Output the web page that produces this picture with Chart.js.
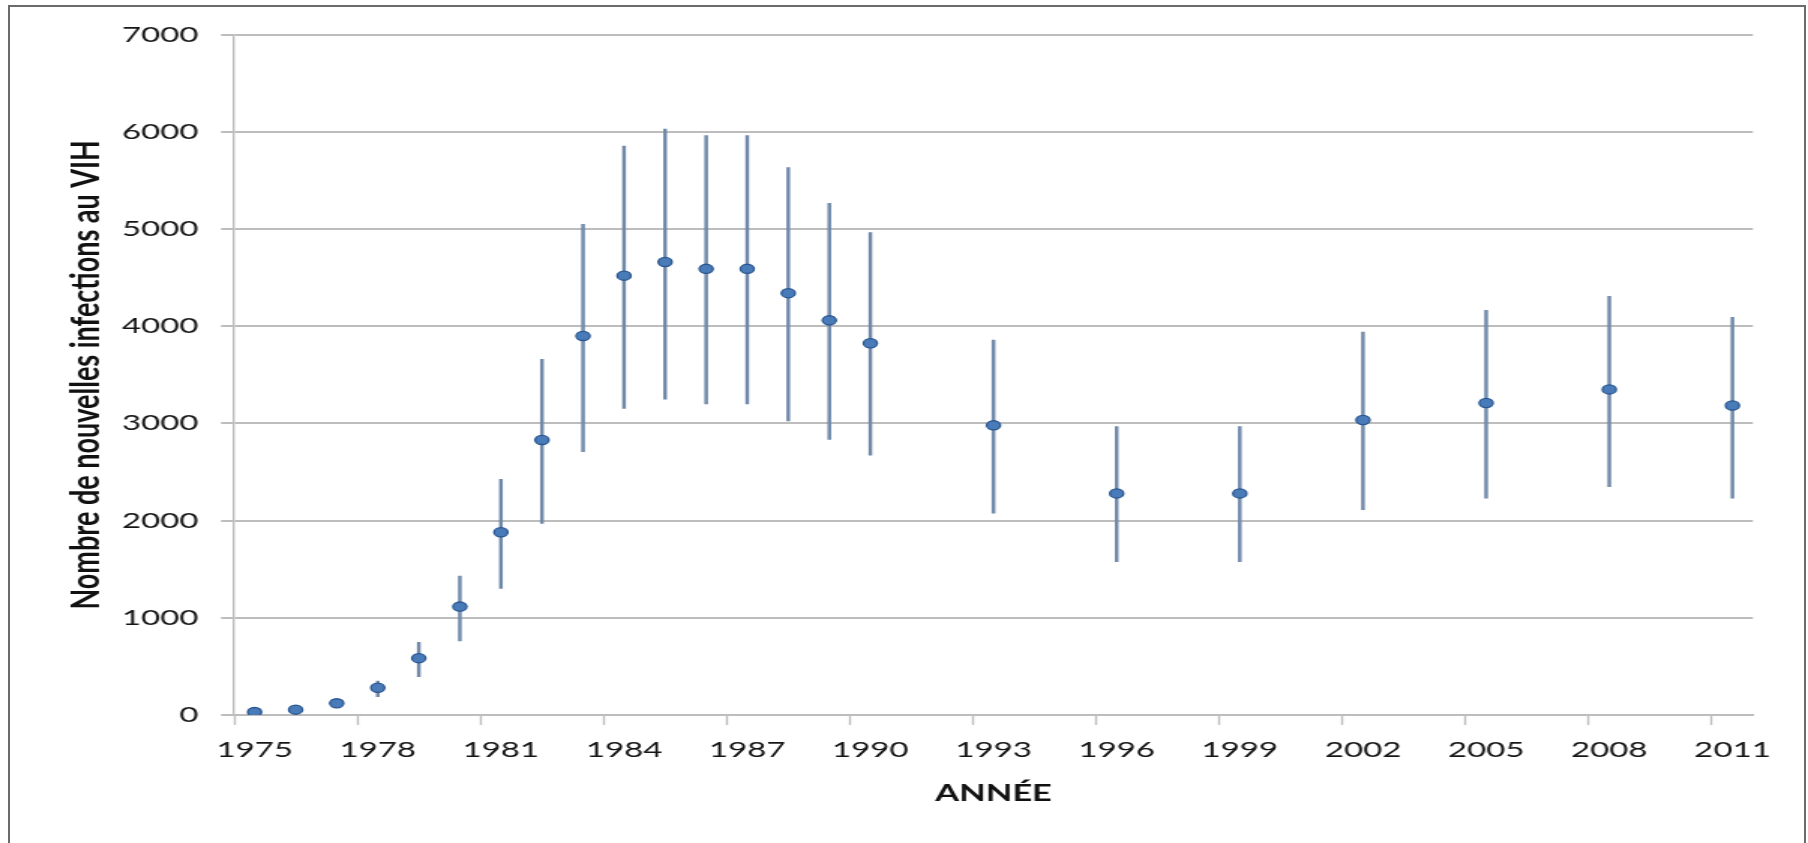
<!DOCTYPE html>
<html>
<head>
<meta charset="utf-8">
<script src="https://cdn.jsdelivr.net/npm/chart.js@4/dist/chart.umd.min.js"></script>
<style>
  html, body { margin: 0; padding: 0; background: #ffffff; overflow: hidden; }
  #frame { position: absolute; left: 8px; top: 5px; width: 1798px; height: 900px; border: 2px solid #6b6b6b; border-bottom: none; box-sizing: border-box; }
  #c { position: absolute; left: 0; top: 0; }
</style>
</head>
<body>
<div id="frame"></div>
<canvas id="c" width="1205" height="843" style="width:1808px;height:843px"></canvas>
<script>
// Data
const years = [1975, 1976, 1977, 1978, 1979, 1980, 1981, 1982, 1983, 1984, 1985, 1986, 1987, 1988, 1989, 1990, 1993, 1996, 1999, 2002, 2005, 2008, 2011];
const infections = [30, 55, 120, 280, 585, 1115, 1880, 2830, 3900, 4520, 4660, 4590, 4590, 4340, 4060, 3825, 2980, 2280, 2280, 3035, 3210, 3350, 3185];
const lowerBound = [15, 40, 90, 188, 394, 761, 1303, 1972, 2709, 3155, 3248, 3200, 3200, 3025, 2836, 2672, 2076, 1578, 1578, 2112, 2230, 2349, 2230];
const upperBound = [45, 75, 150, 350, 748, 1430, 2425, 3660, 5048, 5854, 6029, 5960, 5960, 5631, 5264, 4962, 3856, 2966, 2966, 3939, 4164, 4307, 4092];
const xTickLabels = ['1975', '1978', '1981', '1984', '1987', '1990', '1993', '1996', '1999', '2002', '2005', '2008', '2011'];
const yTickValues = [0, 1000, 2000, 3000, 4000, 5000, 6000, 7000];

const errorData = years.map((yr, i) => ({ x: yr, y: [lowerBound[i], upperBound[i]] }));
const pointData = years.map((yr, i) => ({ x: yr, y: infections[i] }));

const gridCol = '#bdbdbd';

new Chart(document.getElementById('c').getContext('2d'), {
  type: 'scatter',
  data: {
    datasets: [
      {
        type: 'bar',
        data: errorData,
        backgroundColor: '#7189a9',
        borderWidth: 0,
        barThickness: 1.8,
        grouped: false,
        order: 2
      },
      {
        type: 'scatter',
        data: pointData,
        pointRadius: 4.6,
        pointBackgroundColor: '#4a7bb9',
        pointBorderColor: '#2a5791',
        pointBorderWidth: 1.3,
        order: 1
      }
    ]
  },
  options: {
    responsive: false,
    animation: false,
    events: [],
    layout: { padding: { left: 0, top: 34.6, right: 36.7, bottom: 0 } },
    plugins: { legend: { display: false }, tooltip: { enabled: false } },
    scales: {
      x: {
        type: 'linear',
        min: 1974.5,
        max: 2011.5,
        offset: false,
        afterBuildTicks: s => { s.ticks = xTickLabels.map(l => ({ value: Number(l) - 0.5 })); },
        afterFit: s => { s.height = 128; s.paddingLeft = 0; s.paddingRight = 0; },
        grid: { drawOnChartArea: false, drawTicks: true, offset: false, tickLength: 10, tickWidth: 1.4, tickColor: gridCol },
        border: { display: true, color: gridCol, width: 2 },
        ticks: {
          labelOffset: 13.7, padding: 12, maxRotation: 0, autoSkip: false,
          font: { family: 'Lato', size: 22 }, color: '#151515',
          callback: (v, i) => xTickLabels[i]
        },
        title: {
          display: true, text: 'ANNÉE',
          font: { family: 'Lato', size: 23, weight: 'bold' }, color: '#111111',
          padding: { top: 0, bottom: 36 }
        }
      },
      y: {
        type: 'linear',
        min: 0,
        max: 7000,
        afterBuildTicks: s => { s.ticks = yTickValues.map(v => ({ value: v })); },
        afterFit: s => { s.width = 156; s.paddingTop = 0; s.paddingBottom = 0; },
        grid: { color: gridCol, lineWidth: 2, tickLength: 8.7, tickColor: gridCol, tickWidth: 2 },
        border: { display: true, color: gridCol, width: 1.4 },
        ticks: {
          padding: 15,
          font: { family: 'Lato', size: 22 }, color: '#151515',
          callback: v => String(v)
        },
        title: {
          display: true, text: 'Nombre de nouvelles infections au VIH',
          font: { family: 'Lato', size: 27, weight: 'bold' }, color: '#111111',
          padding: { top: 41, bottom: 0 }
        }
      }
    }
  }
});
</script>
</body>
</html>
